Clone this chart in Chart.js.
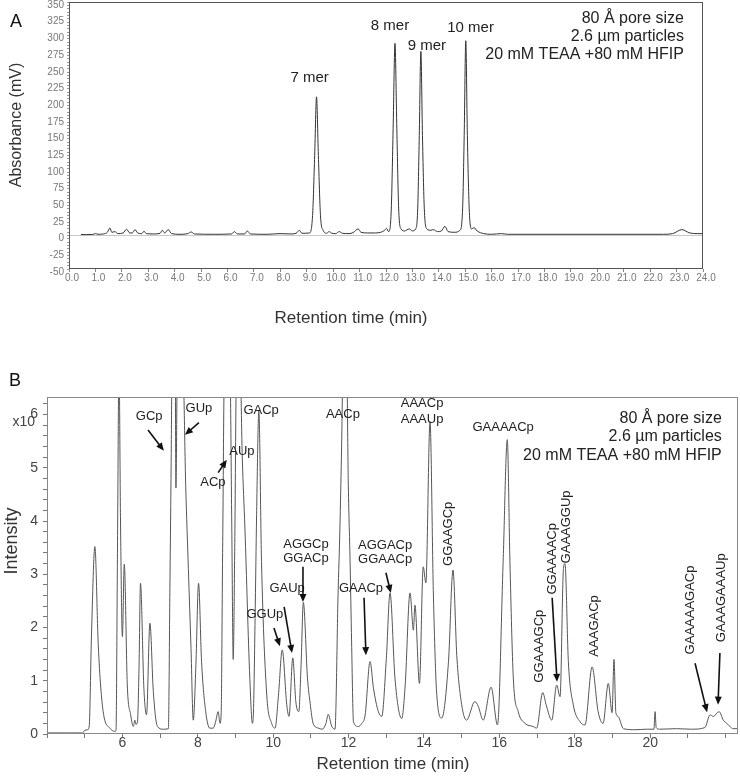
<!DOCTYPE html>
<html>
<head>
<meta charset="utf-8">
<script src="https://cdn.jsdelivr.net/npm/chart.js@4.4.1/dist/chart.umd.min.js"></script>
<style>
  body { margin: 0; background: #fff; }
  #wrap { position: relative; width: 740px; height: 779px; }
  canvas { position: absolute; left: 0; }
  #chartA { top: 0; }
  #chartB { top: 345px; }
</style>
</head>
<body>
<div id="wrap">
  <canvas id="chartA" width="740" height="345"></canvas>
  <canvas id="chartB" width="740" height="434"></canvas>
</div>
<script>
// ---- panel A : UV trace (retention time in min, absorbance in mV)
const timeA = [
  0.45, 0.9, 1.0, 1.1, 1.3, 1.45, 1.55, 1.62, 1.74, 1.85,
  2.05, 2.18, 2.3, 2.4, 2.5, 2.6, 2.75, 2.84, 2.93, 3.2,
  3.45, 3.53, 3.62, 3.76, 3.88, 4.2, 4.5, 4.62, 4.75, 5.5,
  6.15, 6.26, 6.38, 6.65, 6.75, 6.87, 7.5, 7.99, 8.4, 8.6,
  8.72, 8.82, 9.1, 9.22, 9.3, 9.37, 9.44, 9.52, 9.62, 9.75,
  9.85, 9.95, 10.1, 10.23, 10.35, 10.6, 10.75, 10.95, 11.05, 11.3,
  11.6, 11.8, 11.95, 12.02, 12.1, 12.2, 12.27, 12.34, 12.41, 12.48,
  12.57, 12.7, 12.88, 13.0, 13.12, 13.2, 13.26, 13.32, 13.38, 13.45,
  13.55, 13.7, 13.79, 13.95, 14.1, 14.23, 14.35, 14.6, 14.8, 14.9,
  14.96, 15.02, 15.08, 15.15, 15.24, 15.33, 15.45, 15.7, 16.0, 16.37,
  16.6, 22.5, 22.85, 23.2, 23.5, 23.8, 24.0
];
const absA = [
  1.5, 1.8, 3, 2, 2.5, 5, 11.5, 5, 6, 3,
  4, 9.5, 4, 4, 9, 4, 3, 6.5, 3, 2.5,
  3.5, 8, 4, 9, 3, 2, 3, 5.5, 2.5, 2,
  2.5, 6, 2.5, 2.5, 7, 2.5, 2, 3, 2.5, 3.5,
  8, 3.5, 4, 30, 120, 208, 120, 30, 8, 3.5,
  6, 3.5, 3, 6, 3.5, 3, 4.5, 10, 5, 4,
  4, 5, 8, 11, 6, 40, 160, 288, 160, 40,
  10, 7, 10, 7, 10, 40, 150, 276, 150, 40,
  10, 8, 9, 6, 7, 14, 6, 5, 8, 40,
  150, 292, 150, 40, 10, 12, 7, 3, 2, 3,
  2, 2, 3, 9, 4, 3, 3
];
const merNames = ['7 mer', '8 mer', '9 mer', '10 mer'];
const conditions = ['80 Å pore size', '2.6 µm particles', '20 mM TEAA +80 mM HFIP'];

// ---- panel B : MS trace (retention time in min, intensity x10^7)
const timeB = [
  4.0, 4.5, 4.95, 5.0, 5.08, 5.12, 5.18, 5.27, 5.36, 5.49,
  5.67, 5.8, 5.83, 5.87, 5.91, 5.95, 6.0, 6.05, 6.13, 6.22,
  6.29, 6.33, 6.36, 6.4, 6.44, 6.48, 6.57, 6.64, 6.73, 6.82,
  6.93, 7.09, 7.22, 7.26, 7.29, 7.32, 7.4, 7.42, 7.46, 7.6,
  7.68, 7.75, 7.82, 7.88, 7.95, 8.02, 8.1, 8.21, 8.32, 8.41,
  8.47, 8.54, 8.59, 8.62, 8.66, 8.71, 8.85, 8.9, 8.94, 8.98,
  9.03, 9.12, 9.18, 9.25, 9.38, 9.45, 9.48, 9.52, 9.56, 9.62,
  9.69, 9.83, 9.96, 10.05, 10.14, 10.24, 10.36, 10.42, 10.52, 10.6,
  10.68, 10.74, 10.8, 10.91, 10.98, 11.06, 11.2, 11.3, 11.4, 11.46,
  11.55, 11.64, 11.72, 11.77, 11.81, 11.86, 11.95, 11.99, 12.04, 12.08,
  12.13, 12.26, 12.35, 12.44, 12.57, 12.66, 12.79, 12.88, 13.0, 13.1,
  13.23, 13.41, 13.5, 13.63, 13.72, 13.76, 13.88, 13.98, 14.05, 14.16,
  14.25, 14.34, 14.47, 14.65, 14.77, 14.87, 15.0, 15.13, 15.35, 15.44,
  15.57, 15.78, 15.95, 16.1, 16.21, 16.28, 16.37, 16.5, 16.68, 16.9,
  16.99, 17.15, 17.24, 17.39, 17.52, 17.61, 17.7, 17.74, 17.83, 17.96,
  18.14, 18.27, 18.46, 18.62, 18.75, 18.89, 18.99, 19.04, 19.09, 19.15,
  19.29, 19.6, 19.9, 20.1, 20.13, 20.16, 20.25, 20.7, 21.1, 21.45,
  21.59, 21.67, 21.83, 21.94, 22.03, 22.12, 22.2, 22.33
];
const intensityB = [
  0.02, 0.02, 0.02, 0.07, 0.08, 0.15, 1.86, 3.52, 1.67, 0.42,
  0.11, 0.05, 0.06, 3.5, 7, 4, 1.83, 3.19, 0.92, 0.36,
  0.14, 0.26, 0.18, 0.23, 1.2, 2.83, 0.86, 0.36, 2.08, 0.8,
  0.14, 0.09, 0.1, 2.74, 4.8, 7, 7, 4.62, 7, 7,
  4.65, 3.11, 1.61, 0.26, 1.3, 2.83, 1.36, 0.42, 0.11, 0.11,
  0.22, 0.42, 0.2, 0.4, 3.5, 7, 7, 4, 1.4, 3.5,
  7, 7, 5.2, 3.87, 1.05, 0.2, 0.5, 2.17, 4.12, 6.07,
  3.24, 0.73, 0.2, 0.11, 0.73, 1.58, 0.55, 0.33, 1.43, 0.61,
  0.42, 1.3, 2.47, 1.05, 0.58, 0.2, 0.11, 0.09, 0.2, 0.37,
  0.15, 0.09, 2.59, 3.87, 5.2, 7, 7, 4.8, 3.24, 1.73,
  0.23, 0.14, 0.2, 0.36, 1.36, 0.86, 0.42, 0.33, 1.4, 2.65,
  1.05, 0.29, 0.9, 2.65, 1.95, 2.42, 0.95, 3.14, 2.84, 5.87,
  2.61, 0.73, 0.3, 1.36, 3.08, 1.48, 0.55, 0.26, 0.61, 0.52,
  0.26, 0.88, 0.17, 3.24, 5.53, 3.24, 1.05, 0.42, 0.2, 0.14,
  0.11, 0.78, 0.55, 0.26, 0.92, 0.7, 3.11, 3.2, 1.36, 0.55,
  0.23, 0.17, 1.26, 0.42, 0.2, 0.95, 0.4, 1.4, 0.4, 0.33,
  0.1, 0.08, 0.09, 0.09, 0.42, 0.12, 0.09, 0.1, 0.09, 0.12,
  0.36, 0.33, 0.42, 0.26, 0.2, 0.14, 0.1, 0.1
];

const FAM = "'Liberation Sans', Arial, sans-serif";
const F = s => s + 'px ' + FAM;
Chart.defaults.font.family = FAM;

// draws free texts, arrows and the box round the plot
const notesPlugin = {
  id: 'notes',
  afterDatasetsDraw(chart, args, opts) {
    const ctx = chart.ctx, xs = chart.scales.x, ys = chart.scales.y;
    ctx.save();
    (opts.texts || []).forEach(function (n) {
      ctx.save();
      ctx.font = n.font;
      ctx.fillStyle = n.color || '#222';
      ctx.textAlign = n.align || 'center';
      ctx.textBaseline = 'middle';
      const px = n.px !== undefined ? n.px : xs.getPixelForValue(n.x);
      const py = n.py !== undefined ? n.py : ys.getPixelForValue(n.y);
      ctx.translate(px, py);
      if (n.rot) ctx.rotate(-Math.PI / 2);
      ctx.fillText(n.text, 0, 0);
      ctx.restore();
    });
    (opts.arrows || []).forEach(function (a) {
      const x1 = xs.getPixelForValue(a[0]), y1 = ys.getPixelForValue(a[1]);
      const x2 = xs.getPixelForValue(a[2]), y2 = ys.getPixelForValue(a[3]);
      const ang = Math.atan2(y2 - y1, x2 - x1), c = Math.cos(ang), s = Math.sin(ang);
      ctx.strokeStyle = '#111'; ctx.fillStyle = '#111'; ctx.lineWidth = 1.6;
      ctx.beginPath(); ctx.moveTo(x1, y1); ctx.lineTo(x2 - 5 * c, y2 - 5 * s); ctx.stroke();
      ctx.beginPath(); ctx.moveTo(x2, y2);
      ctx.lineTo(x2 - 8 * c + 3.5 * s, y2 - 8 * s - 3.5 * c);
      ctx.lineTo(x2 - 8 * c - 3.5 * s, y2 - 8 * s + 3.5 * c);
      ctx.closePath(); ctx.fill();
    });
    const ca = chart.chartArea;
    ctx.strokeStyle = opts.frame; ctx.lineWidth = 1;
    ctx.strokeRect(ca.left + 0.5, ca.top + 0.5, ca.right - ca.left - 1, ca.bottom - ca.top - 1);
    ctx.restore();
  }
};

const isWhole = v => Math.abs(v - Math.round(v)) < 1e-6;

// ---- chart A
new Chart(document.getElementById('chartA'), {
  type: 'line',
  data: {
    datasets: [{
      data: timeA.map((t, i) => ({ x: t, y: absA[i] })),
      borderColor: '#333', borderWidth: 1, pointRadius: 0,
      cubicInterpolationMode: 'monotone', fill: false
    }]
  },
  options: {
    responsive: false, animation: false, devicePixelRatio: 1,
    layout: { padding: { left: 0, top: 2, right: 37, bottom: 0 } },
    plugins: {
      legend: { display: false }, tooltip: { enabled: false },
      notes: {
        frame: '#555',
        texts: [
          { text: merNames[0], x: 9.11, y: 236, font: F(15) },
          { text: merNames[1], x: 12.15, y: 315, font: F(15) },
          { text: merNames[2], x: 13.55, y: 284, font: F(15) },
          { text: merNames[3], x: 15.2, y: 311, font: F(15) },
          { text: conditions[0], x: 23.28, y: 325, align: 'right', font: F(16) },
          { text: conditions[1], x: 23.28, y: 298, align: 'right', font: F(16) },
          { text: conditions[2], x: 23.28, y: 271, align: 'right', font: F(16) },
          { text: 'A', px: 16, py: 22, font: F(18), color: '#111' },
          { text: 'Absorbance (mV)', px: 17, py: 125, rot: true, font: F(16), color: '#333' },
          { text: 'Retention time (min)', px: 351, py: 318, font: F(17), color: '#333' }
        ]
      }
    },
    scales: {
      x: {
        type: 'linear', min: 0, max: 24,
        border: { display: false },
        grid: { drawOnChartArea: false, tickLength: 3, tickColor: '#888' },
        ticks: {
          stepSize: 1, autoSkip: false, maxRotation: 0, includeBounds: false,
          padding: 0, labelOffset: 3, color: '#777', font: { size: 10 },
          callback: v => v.toFixed(1)
        },
        afterFit: s => { s.height = 76; s.paddingLeft = 0; s.paddingRight = 0; }
      },
      y: {
        min: -50, max: 350,
        border: { display: false },
        grid: {
          color: c => (c.tick && c.tick.value === 0) ? '#c8c8c8' : 'rgba(0,0,0,0)',
          tickLength: 2, tickColor: '#999'
        },
        ticks: {
          stepSize: 5, autoSkip: false, padding: 3, labelOffset: 3, color: '#777', font: { size: 10 },
          callback: v => (Math.round(v) % 25 === 0) ? String(Math.round(v)) : ''
        },
        afterFit: s => { s.width = 69; s.paddingTop = 0; s.paddingBottom = 0; }
      }
    }
  },
  plugins: [notesPlugin]
});

// ---- chart B
new Chart(document.getElementById('chartB'), {
  type: 'line',
  data: {
    datasets: [{
      data: timeB.map((t, i) => ({ x: t, y: intensityB[i] })),
      borderColor: '#555', borderWidth: 1, pointRadius: 0,
      cubicInterpolationMode: 'monotone', fill: false
    }]
  },
  options: {
    responsive: false, animation: false, devicePixelRatio: 1,
    layout: { padding: { left: 0, top: 52, right: 2, bottom: 0 } },
    plugins: {
      legend: { display: false }, tooltip: { enabled: false },
      notes: {
        frame: '#888',
        texts: [
          { text: conditions[0], x: 21.9, y: 5.93, align: 'right', font: F(16) },
          { text: conditions[1], x: 21.9, y: 5.59, align: 'right', font: F(16) },
          { text: conditions[2], x: 21.9, y: 5.23, align: 'right', font: F(16) },
          { text: 'GCp', x: 6.71, y: 5.96, font: F(13) },
          { text: 'GUp', x: 8.03, y: 6.11, font: F(13) },
          { text: 'AUp', x: 9.17, y: 5.30, font: F(13) },
          { text: 'ACp', x: 8.40, y: 4.72, font: F(13) },
          { text: 'GACp', x: 9.68, y: 6.07, font: F(13) },
          { text: 'AACp', x: 11.85, y: 6.0, font: F(13) },
          { text: 'AAACp', x: 13.95, y: 6.2, font: F(13) },
          { text: 'AAAUp', x: 13.95, y: 5.9, font: F(13) },
          { text: 'GAAAACp', x: 16.1, y: 5.75, font: F(13) },
          { text: 'AGGCp', x: 10.87, y: 3.57, font: F(13) },
          { text: 'GGACp', x: 10.87, y: 3.29, font: F(13) },
          { text: 'AGGACp', x: 12.97, y: 3.55, font: F(13) },
          { text: 'GGAACp', x: 12.97, y: 3.27, font: F(13) },
          { text: 'GAUp', x: 10.37, y: 2.73, font: F(13) },
          { text: 'GGUp', x: 9.78, y: 2.24, font: F(13) },
          { text: 'GAACp', x: 12.33, y: 2.74, font: F(13) },
          { text: 'GGAAGCp', x: 14.66, y: 3.76, rot: true, font: F(13) },
          { text: 'GGAAAACp', x: 17.4, y: 3.29, rot: true, font: F(13) },
          { text: 'GAAAGGUp', x: 17.79, y: 3.89, rot: true, font: F(13) },
          { text: 'GGAAAGCp', x: 17.05, y: 1.65, rot: true, font: F(13) },
          { text: 'AAAGACp', x: 18.51, y: 2.03, rot: true, font: F(13) },
          { text: 'GAAAAAGACp', x: 21.08, y: 2.33, rot: true, font: F(13) },
          { text: 'GAAAGAAAUp', x: 21.9, y: 2.56, rot: true, font: F(13) },
          { text: 'B', px: 15, py: 36, font: F(18), color: '#111' },
          { text: 'Intensity', px: 12, py: 196, rot: true, font: F(18), color: '#333' },
          { text: 'Retention time (min)', px: 393, py: 419, font: F(17), color: '#333' },
          { text: 'x10', px: 35, py: 77, align: 'right', font: F(14), color: '#444' }
        ],
        arrows: [
          [6.68, 5.71, 7.10, 5.32],
          [8.03, 5.85, 7.66, 5.62],
          [8.54, 4.91, 8.77, 5.15],
          [10.79, 3.14, 10.79, 2.48],
          [10.29, 2.39, 10.50, 1.52],
          [10.02, 1.99, 10.18, 1.65],
          [12.41, 2.56, 12.46, 1.48],
          [12.99, 3.03, 13.12, 2.65],
          [17.40, 2.56, 17.53, 0.98],
          [21.19, 1.33, 21.51, 0.41],
          [21.85, 1.52, 21.80, 0.55]
        ]
      }
    },
    scales: {
      x: {
        type: 'linear', min: 4, max: 22.33,
        border: { display: false },
        grid: { drawOnChartArea: false, tickLength: 4, tickColor: '#777' },
        ticks: {
          stepSize: 1, autoSkip: false, maxRotation: 0, includeBounds: false,
          padding: -2, color: '#444', font: { size: 14, lineHeight: 1 },
          callback: v => (isWhole(v) && Math.round(v) % 2 === 0 && v >= 6 && v <= 20) ? String(Math.round(v)) : ''
        },
        afterFit: s => { s.height = 45; s.paddingLeft = 0; s.paddingRight = 0; }
      },
      y: {
        min: 0, max: 6.33,
        border: { display: false },
        grid: { drawOnChartArea: false, tickLength: 4, tickColor: '#777' },
        ticks: {
          stepSize: 0.2, autoSkip: false, includeBounds: false,
          padding: 5, color: '#444', font: { size: 14 },
          callback: v => isWhole(v) ? String(Math.round(v)) : ''
        },
        afterFit: s => { s.width = 47; s.paddingTop = 0; s.paddingBottom = 0; }
      }
    }
  },
  plugins: [notesPlugin]
});
</script>
</body>
</html>
